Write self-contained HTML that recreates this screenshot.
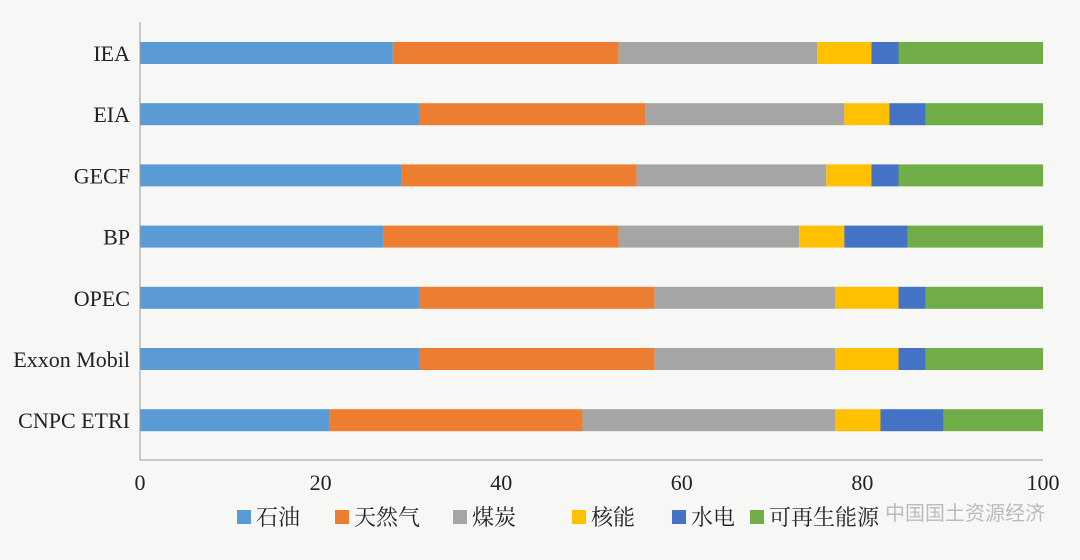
<!DOCTYPE html>
<html><head><meta charset="utf-8"><style>
html,body{margin:0;padding:0;background:#f7f7f5;}
svg{display:block;font-family:"Liberation Serif","Noto Serif CJK SC",serif;}
</style></head><body>
<svg id="chart" width="1080" height="560"></svg>
<script>
const categories=["IEA","EIA","GECF","BP","OPEC","Exxon Mobil","CNPC ETRI"];
const seriesNames=["石油","天然气","煤炭","核能","水电","可再生能源"];
const colors=["#5b9bd5","#ed7d31","#a5a5a5","#ffc000","#4472c4","#70ad47"];
const oil=[28,31,29,27,31,31,21];
const gas=[25,25,26,26,26,26,28];
const coal=[22,22,21,20,20,20,28];
const nuclear=[6,5,5,5,7,7,5];
const hydro=[3,4,3,7,3,3,7];
const renew=[16,13,16,15,13,13,11];
const xTicks=[0,20,40,60,80,100];
const series=[oil,gas,coal,nuclear,hydro,renew];
const NS="http://www.w3.org/2000/svg";
const svg=document.getElementById('chart');
const x0=140,x1=1043,yTop=22,yBot=460;
const xs=v=>x0+(x1-x0)*v/100;
const ys=i=>53+i*61.2;
function mk(t,a,p){const e=document.createElementNS(NS,t);for(const k in a)e.setAttribute(k,a[k]);(p||svg).appendChild(e);return e;}
categories.forEach((c,i)=>{
  let acc=0;
  series.forEach((s,j)=>{
    const r=mk('rect',{x:xs(acc),y:ys(i)-11,width:xs(acc+s[i])-xs(acc),height:22,fill:colors[j]});
    
    
    acc+=s[i];
  });
  const t=mk('text',{x:130,y:ys(i)+8,'text-anchor':'end','font-size':22,fill:'#222'});
  t.textContent=c;
  
  
});
const ax=mk('line',{x1:x0,y1:yTop,x2:x0,y2:yBot,stroke:'#999','stroke-width':1});


const bx=mk('line',{x1:x0,y1:yBot,x2:x1,y2:yBot,stroke:'#999','stroke-width':1});


xTicks.forEach(v=>{
  const t=mk('text',{x:xs(v),y:490,'text-anchor':'middle','font-size':22,fill:'#222'});
  t.textContent=v;
  
  
});
const lx=[237,335,453,572,672,750];
seriesNames.forEach((n,j)=>{
  const g=mk('g',{});
  
  
  mk('rect',{x:lx[j],y:510,width:14,height:14,fill:colors[j]},g);
  const t=mk('text',{x:lx[j]+19,y:525,'font-size':22,fill:'#222'},g);
  t.textContent=n;
});
const w=mk('text',{x:1045,y:520,'text-anchor':'end','font-size':20,fill:'#bbb','font-family':'"Liberation Sans","Noto Sans CJK SC",sans-serif'});
w.textContent='中国国土资源经济';


</script>
</body></html>
